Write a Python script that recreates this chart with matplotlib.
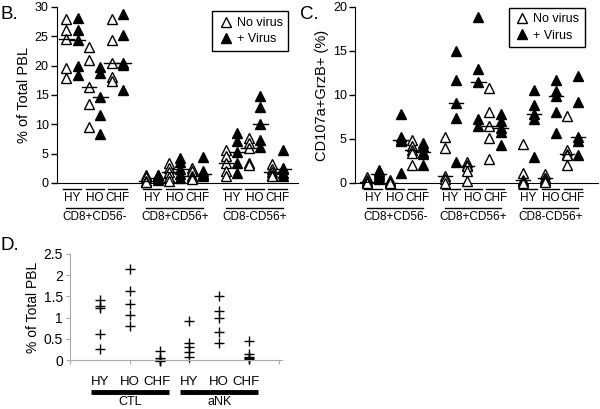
import numpy as np
import matplotlib
matplotlib.use('Agg')
import matplotlib.pyplot as plt
import matplotlib.transforms as mtransforms
from matplotlib.lines import Line2D

plt.rcParams['font.family'] = ['Liberation Sans', 'DejaVu Sans']
plt.rcParams['font.size'] = 9

groups = ['CD8+CD56-', 'CD8+CD56+', 'CD8-CD56+']
donors = ['HY', 'HO', 'CHF']

# Panel B: % of total PBL, [group][donor] -> values
b_novirus = [
    [[27.9, 26.1, 24.5, 19.6, 17.9], [23.2, 20.9, 16.3, 13.5, 9.5], [27.9, 24.3, 20.5, 18.1, 17.3]],
    [[1.4, 1.0, 0.4, 0.2, 0.1], [3.4, 2.5, 1.8, 1.0, 0.3], [2.5, 2.0, 1.2, 1.0, 0.6]],
    [[5.6, 4.6, 3.4, 2.1, 1.2], [7.6, 6.8, 6.0, 3.4, 3.0], [3.3, 2.3, 1.8, 1.4, 1.2]],
]
b_virus = [
    [[28.2, 26.1, 24.3, 20.0, 18.4], [19.7, 18.8, 14.7, 11.6, 8.3], [28.8, 25.2, 20.5, 20.1, 15.8]],
    [[1.4, 1.3, 0.8, 0.8, 0.5], [4.3, 3.5, 2.3, 1.5, 0.8], [4.5, 2.0, 1.5, 1.5, 1.2]],
    [[8.5, 7.1, 5.2, 3.4, 1.7], [14.8, 13.0, 10.0, 7.4, 6.2], [5.7, 2.5, 2.3, 1.7, 1.2]],
]

# Panel C: CD107a+GrzB+ (%)
c_novirus = [
    [[0.7, 0.3, 0.1, 0.0, 0.0], [0.3, 0.1, 0.0, 0.0, 0.0], [4.9, 4.2, 3.8, 3.4, 2.1]],
    [[5.2, 4.0, 0.8, 0.5, 0.0], [2.4, 2.0, 1.9, 1.4, 0.2], [10.8, 8.1, 6.5, 5.1, 2.7]],
    [[4.4, 1.1, 0.3, 0.2, 0.0], [1.0, 0.6, 0.6, 0.3, 0.1], [7.6, 3.7, 3.3, 3.2, 2.0]],
]
c_virus = [
    [[1.5, 1.2, 1.0, 0.8, 0.5], [7.8, 5.2, 4.9, 4.8, 1.1], [4.6, 4.2, 3.5, 3.3, 2.0]],
    [[15.0, 11.7, 9.1, 7.4, 2.4], [18.9, 13.0, 11.5, 7.3, 6.5], [7.8, 7.1, 6.2, 5.8, 4.3]],
    [[10.6, 8.9, 7.8, 7.3, 3.0], [11.7, 10.5, 9.9, 8.1, 5.7], [12.2, 9.2, 5.2, 4.8, 3.2]],
]

# Panel D: % of total PBL
d_groups = ['CTL', 'aNK']
d_values = [
    [[1.42, 1.28, 1.22, 0.62, 0.25], [2.14, 1.62, 1.33, 1.07, 0.80], [0.22, 0.05, 0.01, -0.01, -0.02]],
    [[0.93, 0.41, 0.31, 0.20, 0.08], [1.52, 1.15, 0.99, 0.66, 0.41], [0.45, 0.13, 0.06, 0.04, 0.02]],
]


def triangle_panel(ax, novirus, virus):
    for g in range(3):
        for d in range(3):
            x0 = g * 7 + d * 2
            for x, vals, face in [(x0, novirus[g][d], 'white'), (x0 + 1, virus[g][d], 'black')]:
                ax.plot([x] * len(vals), vals, '^', ms=6.5, mfc=face, mec='black', mew=1,
                        ls='none', clip_on=False, zorder=3)
                m = np.median(vals)
                ax.plot([x - 0.65, x + 0.65], [m, m], color='black', lw=1, zorder=4)
    ax.set_xlim(-0.8, 20.3)
    ax.set_xticks([])
    for s in ['top', 'right']:
        ax.spines[s].set_visible(False)
    ax.tick_params(axis='y', direction='out', length=4, width=1, pad=2, labelsize=9)
    # category labels below axis
    tr = mtransforms.blended_transform_factory(ax.transData, ax.transAxes)
    for g in range(3):
        for d in range(3):
            xc = g * 7 + d * 2 + 0.5
            ax.plot([xc - 0.8, xc + 0.8], [-0.034, -0.034], color='black', lw=1,
                    transform=tr, clip_on=False)
            ax.text(xc, -0.088, donors[d], transform=tr, ha='center', va='center', fontsize=8.5)
        gc = g * 7 + 2.5
        ax.plot([gc - 2.5, gc + 2.5], [-0.143, -0.143], color='black', lw=1,
                transform=tr, clip_on=False)
        ax.text(gc, -0.196, groups[g], transform=tr, ha='center', va='center', fontsize=8.5)
    handles = [Line2D([], [], marker='^', ls='none', ms=6.5, mfc='white', mec='black', mew=1),
               Line2D([], [], marker='^', ls='none', ms=6.5, mfc='black', mec='black', mew=1)]
    return handles


fig = plt.figure(figsize=(6, 4.09), dpi=100)

# B
axb = fig.add_axes([0.095, 0.5526, 0.4017, 0.4303])
h = triangle_panel(axb, b_novirus, b_virus)
axb.set_ylim(0, 30)
axb.set_yticks(range(0, 31, 5))
axb.set_ylabel('% of Total PBL', fontsize=10.5, labelpad=3)
axb.legend(h, ['No virus', '+ Virus'], loc='upper right', bbox_to_anchor=(0.96, 0.975),
           frameon=True, fancybox=False, edgecolor='black', framealpha=1, borderaxespad=0,
           handletextpad=0.3, handlelength=1.2, fontsize=9, borderpad=0.45, labelspacing=0.35)
fig.text(0.0, 0.965, 'B.', fontsize=13.5, va='center', ha='left')

# C
axc = fig.add_axes([0.592, 0.5526, 0.405, 0.4303])
h = triangle_panel(axc, c_novirus, c_virus)
axc.set_xlim(-1.1, 20.8)
axc.set_ylim(0, 20)
axc.set_yticks(range(0, 21, 5))
axc.set_ylabel('CD107a+GrzB+ (%)', fontsize=10.5, labelpad=3)
axc.legend(h, ['No virus', '+ Virus'], loc='upper right', bbox_to_anchor=(0.945, 0.995),
           frameon=True, fancybox=False, edgecolor='black', framealpha=1, borderaxespad=0,
           handletextpad=0.3, handlelength=1.2, fontsize=9, borderpad=0.45, labelspacing=0.35)
fig.text(0.5, 0.965, 'C.', fontsize=13.5, va='center', ha='left')

# D
axd = fig.add_axes([0.1167, 0.1198, 0.3533, 0.2592])
for g in range(2):
    for d in range(3):
        x = g * 3 + d + 1
        vals = d_values[g][d]
        axd.plot([x] * len(vals), vals, '+', ms=6.5, mew=1, color='black', ls='none', clip_on=False)
axd.set_xlim(0, 7.1)
axd.set_ylim(0, 2.5)
axd.set_yticks([0, 0.5, 1, 1.5, 2, 2.5])
axd.set_yticklabels(['0', '0.5', '1', '1.5', '2', '2.5'])
axd.set_xticks([0, 2, 4, 6, 7])
axd.set_xticklabels([])
for s in ['top', 'right']:
    axd.spines[s].set_visible(False)
for s in ['left', 'bottom']:
    axd.spines[s].set_color('#aaaaaa')
    axd.spines[s].set_linewidth(0.8)
axd.tick_params(colors='#aaaaaa', length=3, labelcolor='black', labelsize=10, pad=2)
axd.set_ylabel('% of Total PBL', fontsize=10, labelpad=3)
trd = mtransforms.blended_transform_factory(axd.transData, axd.transAxes)
label_shift = [0, 0, -0.1]
for g in range(2):
    for d in range(3):
        axd.text(g * 3 + d + 1 + label_shift[d], -0.21, donors[d], transform=trd,
                 ha='center', va='center', fontsize=9.5)
    gc = g * 3 + 2
    axd.plot([gc - 1.3, gc + 1.3], [-0.3, -0.3], color='black', lw=3.5, solid_capstyle='butt',
             transform=trd, clip_on=False)
    axd.text(gc, -0.425, d_groups[g], transform=trd, ha='center', va='baseline', fontsize=9)
fig.text(0.0, 0.4, 'D.', fontsize=13.5, va='center', ha='left')

fig.savefig('out.png', dpi=100)
